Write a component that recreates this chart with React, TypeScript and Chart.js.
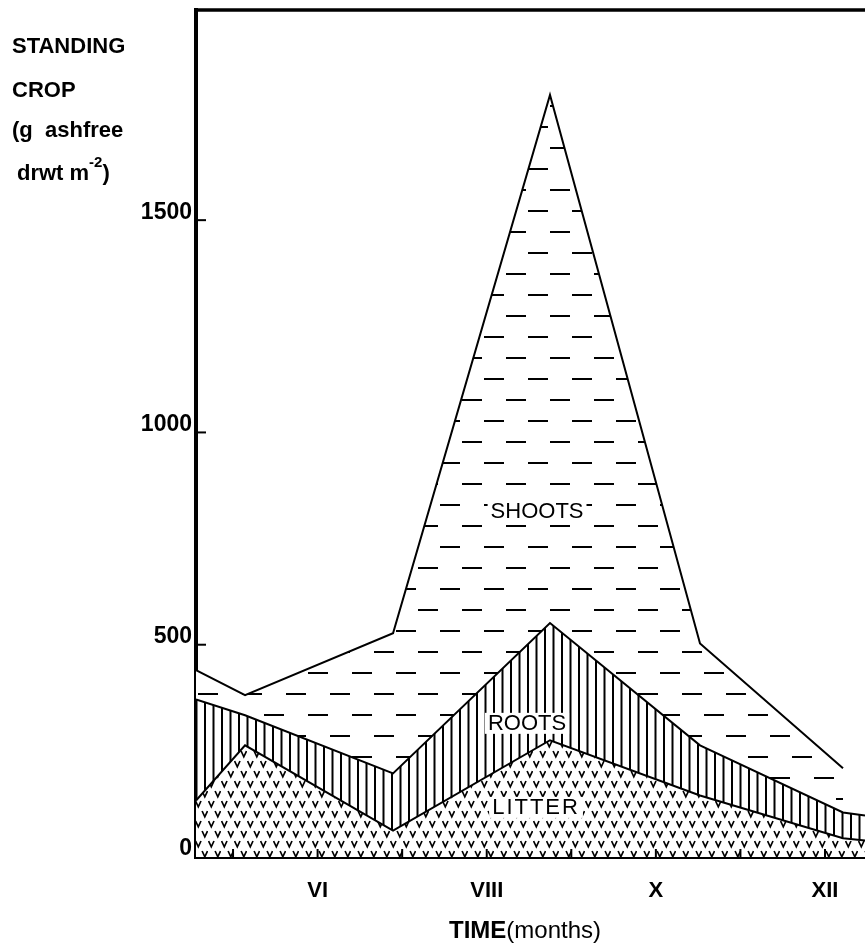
import React, { useEffect, useRef } from 'react';
import { Chart, registerables } from 'chart.js';
Chart.register(...registerables);

// sampling dates (month number, fractional) and component values (g ash-free dry wt m^-2)
const months = [4.562, 5.142, 6.892, 8.748, 10.522, 12.213, 12.473];
const litter = [133, 263, 62, 275, 145, 44, 39];
const roots = [238, 71, 135, 276, 118, 61, 59];
const shoots: (number | null)[] = [69, 47, 330, 1244, 240, 104, null];

const xTickMonths = [5, 6, 7, 8, 9, 10, 11, 12];
const xTickLabels: Record<number, string> = { 6: 'VI', 8: 'VIII', 10: 'X', 12: 'XII' };
const yTicks = [0, 500, 1000, 1500];
const yMax = 1995;

const areaLabels = [
  { text: 'SHOOTS', x: 8.595, y: 814, spacing: 0 },
  { text: 'ROOTS', x: 8.476, y: 316, spacing: 0 },
  { text: 'LITTER', x: 8.583, y: 118, spacing: 2 },
];

const FONT = '"Liberation Sans", Arial, sans-serif';

export default function App() {
  const ref = useRef<HTMLCanvasElement>(null);

  useEffect(() => {
    const canvas = ref.current!;
    const mainCtx = canvas.getContext('2d')!;

    const makePattern = (w: number, h: number, draw: (g: CanvasRenderingContext2D) => void) => {
      const c = document.createElement('canvas');
      c.width = w;
      c.height = h;
      const g = c.getContext('2d')!;
      g.fillStyle = '#fff';
      g.fillRect(0, 0, w, h);
      g.strokeStyle = '#000';
      g.fillStyle = '#000';
      draw(g);
      return mainCtx.createPattern(c, 'repeat')!;
    };

    const dashPattern = makePattern(44, 42, (g) => {
      g.fillRect(0, 0, 20, 2);
      g.fillRect(22, 21, 20, 2);
    });
    const vertPattern = makePattern(17, 4, (g) => {
      g.fillRect(0, 0, 2, 4);
      g.fillRect(8.5, 0, 2, 4);
    });
    const vPattern = makePattern(13, 20, (g) => {
      g.lineWidth = 1.7;
      const v = (ox: number, oy: number) => {
        g.beginPath();
        g.moveTo(ox + 0.6, oy + 1);
        g.lineTo(ox + 3.3, oy + 6.8);
        g.lineTo(ox + 6, oy + 1);
        g.stroke();
      };
      v(0, 0);
      v(6.5, 10);
    });

    const litterTop = litter.map((v) => v);
    const rootsTop = litter.map((v, i) => v + roots[i]);
    const shootsTop = shoots.map((v, i) => (v === null ? null : rootsTop[i] + v));
    const pts = (arr: (number | null)[]) => months.map((m, i) => ({ x: m, y: arr[i] }));

    const decor = {
      id: 'decor',
      afterDatasetsDraw(chart: any) {
        const { ctx, scales } = chart;
        const xs = scales.x;
        const ys = scales.y;
        ctx.save();
        ctx.font = `22px ${FONT}`;
        ctx.textAlign = 'center';
        ctx.textBaseline = 'middle';
        for (const l of areaLabels) {
          (ctx as any).letterSpacing = `${l.spacing}px`;
          const px = xs.getPixelForValue(l.x);
          const py = ys.getPixelForValue(l.y);
          const w = ctx.measureText(l.text).width;
          ctx.fillStyle = '#fff';
          ctx.fillRect(px - w / 2 - 3, py - 10, w + 6, 21);
          ctx.fillStyle = '#000';
          ctx.fillText(l.text, px, py + 1);
        }
        ctx.restore();
      },
      afterDraw(chart: any) {
        const { ctx, chartArea: a, scales } = chart;
        const xs = scales.x;
        const ys = scales.y;
        ctx.save();
        ctx.strokeStyle = '#000';
        // top frame line
        ctx.lineWidth = 3.5;
        ctx.beginPath();
        ctx.moveTo(a.left - 2, a.top);
        ctx.lineTo(a.right, a.top);
        ctx.stroke();
        // inward tick marks
        ctx.lineWidth = 2;
        for (const v of xTickMonths) {
          const px = xs.getPixelForValue(v);
          ctx.beginPath();
          ctx.moveTo(px, a.bottom);
          ctx.lineTo(px, a.bottom - 8);
          ctx.stroke();
        }
        for (const v of yTicks) {
          if (v === 0) continue;
          const py = ys.getPixelForValue(v);
          ctx.beginPath();
          ctx.moveTo(a.left, py);
          ctx.lineTo(a.left + 10, py);
          ctx.stroke();
        }
        // y-axis title
        ctx.fillStyle = '#000';
        ctx.textAlign = 'left';
        ctx.textBaseline = 'alphabetic';
        ctx.font = `bold 22px ${FONT}`;
        ctx.fillText('STANDING', 12, 53);
        ctx.fillText('CROP', 12, 97);
        ctx.fillText('(g  ashfree', 12, 137);
        let tx = 17;
        ctx.fillText('drwt m', tx, 180);
        tx += ctx.measureText('drwt m').width;
        ctx.font = `bold 15px ${FONT}`;
        ctx.fillText('-2', tx, 167);
        tx += ctx.measureText('-2').width;
        ctx.font = `bold 22px ${FONT}`;
        ctx.fillText(')', tx, 180);
        // x-axis title
        const p1 = 'TIME';
        const p2 = '(months)';
        ctx.font = `bold 24px ${FONT}`;
        const w1 = ctx.measureText(p1).width;
        ctx.font = `24px ${FONT}`;
        const w2 = ctx.measureText(p2).width;
        const sx = 525 - (w1 + w2) / 2;
        ctx.font = `bold 24px ${FONT}`;
        ctx.fillText(p1, sx, 938);
        ctx.font = `24px ${FONT}`;
        ctx.fillText(p2, sx + w1, 938);
        ctx.restore();
      },
    };

    const chart = new Chart(canvas, {
      type: 'line',
      data: {
        datasets: [
          {
            label: 'LITTER',
            data: pts(litterTop),
            borderColor: '#000',
            borderWidth: 2,
            backgroundColor: vPattern,
            fill: 'origin',
            pointRadius: 0,
            tension: 0,
          },
          {
            label: 'ROOTS',
            data: pts(rootsTop),
            borderColor: '#000',
            borderWidth: 2,
            backgroundColor: vertPattern,
            fill: '-1',
            pointRadius: 0,
            tension: 0,
          },
          {
            label: 'SHOOTS',
            data: pts(shootsTop),
            borderColor: '#000',
            borderWidth: 2,
            backgroundColor: dashPattern,
            fill: '-1',
            pointRadius: 0,
            tension: 0,
            spanGaps: false,
          },
        ],
      },
      options: {
        animation: false,
        responsive: true,
        maintainAspectRatio: false,
        layout: { padding: { top: 10, left: 0, right: 0, bottom: 0 } },
        plugins: { legend: { display: false }, tooltip: { enabled: false } },
        scales: {
          x: {
            type: 'linear',
            min: months[0],
            max: months[months.length - 1],
            afterBuildTicks: (s: any) => {
              s.ticks = xTickMonths.map((v) => ({ value: v }));
            },
            afterFit: (s: any) => {
              s.height = 89;
              s.paddingLeft = 0;
              s.paddingRight = 0;
            },
            ticks: {
              callback: (v: any) => xTickLabels[v as number] ?? '',
              autoSkip: false,
              maxRotation: 0,
              color: '#000',
              padding: 21,
              font: { family: FONT, size: 22, weight: 'bold' },
            },
            grid: { display: false, drawTicks: false },
            border: { display: true, color: '#000', width: 4 },
          },
          y: {
            type: 'linear',
            min: 0,
            max: yMax,
            afterBuildTicks: (s: any) => {
              s.ticks = yTicks.map((v) => ({ value: v }));
            },
            afterFit: (s: any) => {
              s.width = 196;
              s.paddingTop = 0;
              s.paddingBottom = 0;
            },
            ticks: {
              callback: (v: any) => String(v),
              color: '#000',
              padding: 4,
              labelOffset: -8,
              font: { family: FONT, size: 23, weight: 'bold' },
            },
            grid: { display: false, drawTicks: false },
            border: { display: true, color: '#000', width: 4 },
          },
        },
      },
      plugins: [decor],
    });
    return () => chart.destroy();
  }, []);

  return (
    <div style={{ position: 'absolute', left: 0, top: 0, width: 865, height: 946 }}>
      <canvas ref={ref} />
    </div>
  );
}
